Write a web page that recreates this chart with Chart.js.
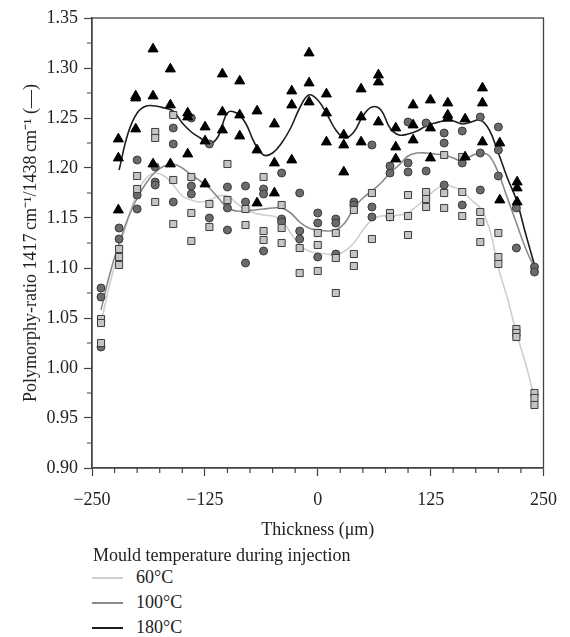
<!DOCTYPE html>
<html>
<head>
<meta charset="utf-8">
<script src="https://cdn.jsdelivr.net/npm/chart.js@4.4.0/dist/chart.umd.min.js"></script>
<style>
  body { margin: 0; background: #fff; }
  #wrap { position: relative; width: 570px; height: 637px; }
  #chart { position: absolute; left: 0; top: 0; }
  .lg { position: absolute; font-family: "Liberation Serif", serif; font-size: 18px; color: #222; line-height: 22px; height: 22px; white-space: nowrap; }
  .sw { position: absolute; left: 92px; width: 31px; height: 1.6px; }
</style>
</head>
<body>
<div id="wrap">
  <canvas id="chart" width="570" height="545"></canvas>
  <div class="lg" style="left:93px; top:544px;">Mould temperature during injection</div>
  <div class="sw" style="top:577px; background:#cfcfcf;"></div>
  <div class="lg" style="left:136px; top:566px;">60°C</div>
  <div class="sw" style="top:602px; background:#8a8a8a;"></div>
  <div class="lg" style="left:136px; top:591px;">100°C</div>
  <div class="sw" style="top:627px; background:#1e1e1e;"></div>
  <div class="lg" style="left:136px; top:616px;">180°C</div>
</div>
<script>
// --- measured positions (µm) ---
const posA = [-240, -220, -200, -180, -160, -140, -120, -100, -80, -60, -40, -20, 0,
              20, 40, 60, 80, 100, 120, 140, 160, 180, 200, 220, 240];
const posB = [-220.8, -201.6, -182.4, -163.2, -144, -124.8, -105.6, -86.4, -67.2, -48, -28.8, -9.6,
              9.6, 28.8, 48, 67.2, 86.4, 105.6, 124.8, 144, 163.2, 182.4, 201.6, 220.8];

// --- replicate ratios, 60°C (squares) ---
const ratio60 = [
  [1.049, 1.045, 1.025], [1.119, 1.111, 1.103], [1.192, 1.179], [1.236, 1.230, 1.166],
  [1.253, 1.188, 1.144], [1.191, 1.155, 1.127], [1.164, 1.141], [1.204, 1.168],
  [1.159, 1.143], [1.191, 1.137, 1.128], [1.163, 1.140, 1.125], [1.120, 1.095],
  [1.135, 1.123, 1.097], [1.135, 1.110, 1.075], [1.158, 1.114, 1.102], [1.175, 1.129],
  [1.155, 1.151], [1.173, 1.152, 1.133], [1.176, 1.169, 1.161], [1.213, 1.175, 1.160],
  [1.211, 1.176, 1.152], [1.156, 1.146, 1.126], [1.135, 1.111, 1.104], [1.039, 1.035, 1.031],
  [0.975, 0.970, 0.963]
];

// --- replicate ratios, 100°C (circles) ---
const ratio100 = [
  [1.080, 1.071, 1.021], [1.140, 1.129], [1.208, 1.173, 1.159], [1.201, 1.186, 1.183],
  [1.240, 1.224, 1.166], [1.250, 1.182, 1.174], [1.224, 1.150], [1.181, 1.160, 1.138],
  [1.182, 1.166, 1.105], [1.179, 1.174, 1.117], [1.195, 1.149, 1.146], [1.175, 1.137, 1.129],
  [1.155, 1.145, 1.111], [1.149, 1.145, 1.114], [1.166, 1.163], [1.223, 1.161, 1.151],
  [1.202, 1.195, 1.151], [1.246, 1.205, 1.196], [1.245, 1.197], [1.235, 1.225, 1.183],
  [1.237, 1.205, 1.163], [1.251, 1.215, 1.178], [1.241, 1.218, 1.192], [1.160, 1.120],
  [1.101, 1.096]
];

// --- replicate ratios, 180°C (triangles) ---
const ratio180 = [
  [1.229, 1.210, 1.158], [1.272, 1.270, 1.239], [1.319, 1.272, 1.204], [1.299, 1.263, 1.204],
  [1.255, 1.251, 1.214], [1.241, 1.227, 1.184], [1.294, 1.256, 1.238], [1.287, 1.253, 1.232],
  [1.257, 1.218, 1.165], [1.244, 1.205, 1.175], [1.277, 1.263, 1.208], [1.315, 1.285, 1.266],
  [1.274, 1.255, 1.226], [1.233, 1.223, 1.196], [1.279, 1.251, 1.226], [1.293, 1.286, 1.246],
  [1.240, 1.221, 1.209], [1.263, 1.243, 1.228], [1.268, 1.240, 1.210], [1.265, 1.253, 1.250],
  [1.249, 1.211], [1.280, 1.265, 1.226], [1.225, 1.168], [1.186, 1.180, 1.166]
];

// --- smoothed trend lines ---
const fitX = [-240, -230, -220, -210, -200, -190, -180, -170, -160, -150, -140, -130, -120, -110, -100,
              -90, -80, -70, -60, -50, -40, -30, -20, -10, 0, 10, 20, 30, 40, 50, 60, 70, 80, 90, 100,
              110, 120, 130, 140, 150, 160, 170, 180, 190, 200, 210, 220, 230, 240];
const fit60 = [1.045, 1.085, 1.118, 1.150, 1.175, 1.190, 1.195, 1.192, 1.183, 1.172, 1.168, 1.166, 1.168, 1.172, 1.172,
               1.165, 1.158, 1.155, 1.153, 1.152, 1.148, 1.135, 1.123, 1.117, 1.115, 1.114, 1.113, 1.117, 1.125, 1.138,
               1.148, 1.152, 1.152, 1.153, 1.155, 1.162, 1.170, 1.178, 1.183, 1.181, 1.177, 1.168, 1.160, 1.140,
               1.100, 1.070, 1.035, 1.005, 0.970];
const fit100 = [1.058, 1.095, 1.125, 1.150, 1.170, 1.185, 1.196, 1.202, 1.204, 1.200, 1.193, 1.187, 1.180, 1.170, 1.160,
                1.157, 1.157, 1.158, 1.159, 1.160, 1.160, 1.155, 1.146, 1.140, 1.138, 1.137, 1.138, 1.145, 1.160, 1.170,
                1.177, 1.185, 1.195, 1.203, 1.212, 1.215, 1.215, 1.214, 1.213, 1.210, 1.207, 1.212, 1.215, 1.212,
                1.195, 1.170, 1.145, 1.120, 1.100];
const fit180 = [null, null, 1.198, 1.235, 1.255, 1.262, 1.262, 1.260, 1.257, 1.245, 1.236, 1.230, 1.224, 1.232, 1.255,
                1.255, 1.245, 1.225, 1.213, 1.215, 1.225, 1.240, 1.260, 1.273, 1.268, 1.254, 1.238, 1.230, 1.236, 1.252,
                1.261, 1.258, 1.240, 1.233, 1.234, 1.237, 1.242, 1.245, 1.247, 1.247, 1.244, 1.246, 1.248, 1.238,
                1.215, 1.190, 1.168, 1.135, 1.103];

const FONT = '"Liberation Serif", "Times New Roman", serif';
const INK = '#222';
const AXIS = '#444';

function toPoints(pos, vals) {
    const out = [];
    pos.forEach((x, i) => vals[i].forEach(y => out.push({ x: x, y: y })));
    return out;
}

function toLine(fit) {
    const out = [];
    fitX.forEach((x, i) => { if (fit[i] !== null) out.push({ x: x, y: fit[i] }); });
    return out;
}

function trend(fit, color) {
    return {
        data: toLine(fit),
        showLine: true,
        borderColor: color,
        borderWidth: 1.6,
        pointRadius: 0,
        tension: 0.4,
        fill: false
    };
}

const isMajorX = v => Math.round(v) % 125 === 0;
const isMajorY = v => Math.round(v * 1000) % 50 === 0;

// box around the plot area
const framePlugin = {
    id: 'frame',
    beforeDatasetsDraw(chart) {
        const { ctx, chartArea: a } = chart;
        ctx.save();
        ctx.strokeStyle = AXIS;
        ctx.lineWidth = 1.3;
        ctx.strokeRect(a.left, a.top, a.right - a.left, a.bottom - a.top);
        ctx.restore();
    }
};

// shorter minor ticks (major ones come from chart.js itself)
const minorTicks = {
    id: 'minorTicks',
    afterDraw(chart) {
        const { ctx } = chart;
        const xs = chart.scales.x, ys = chart.scales.y;
        ctx.save();
        ctx.strokeStyle = AXIS;
        ctx.lineWidth = 1.2;
        ctx.beginPath();
        xs.ticks.forEach(t => {
            if (!isMajorX(t.value)) {
                const px = xs.getPixelForValue(t.value);
                ctx.moveTo(px, xs.top);
                ctx.lineTo(px, xs.top + 5);
            }
        });
        ys.ticks.forEach(t => {
            if (!isMajorY(t.value)) {
                const py = ys.getPixelForValue(t.value);
                ctx.moveTo(ys.right, py);
                ctx.lineTo(ys.right - 5, py);
            }
        });
        ctx.stroke();
        ctx.restore();
    }
};

const fmtX = v => v < 0 ? '\u2212' + Math.abs(v) : String(v);

new Chart(document.getElementById('chart'), {
    type: 'scatter',
    data: {
        datasets: [
            { // 180°C
                data: toPoints(posB, ratio180),
                pointStyle: 'triangle', pointRadius: 5.8,
                backgroundColor: '#000', borderColor: '#000', borderWidth: 1
            },
            { // 60°C
                data: toPoints(posA, ratio60),
                pointStyle: 'rect', pointRadius: 5,
                backgroundColor: '#c4c4c4', borderColor: '#3c3c3c', borderWidth: 1
            },
            { // 100°C
                data: toPoints(posA, ratio100),
                pointStyle: 'circle', pointRadius: 4,
                backgroundColor: '#6b6b6b', borderColor: '#3a3a3a', borderWidth: 1
            },
            trend(fit180, '#1e1e1e'),
            trend(fit100, '#8a8a8a'),
            trend(fit60, '#cfcfcf')
        ]
    },
    options: {
        responsive: false,
        animation: false,
        layout: { padding: { left: 0, top: 18, right: 22, bottom: 0 } },
        plugins: { legend: { display: false }, tooltip: { enabled: false } },
        scales: {
            x: {
                type: 'linear', min: -250, max: 250,
                afterFit: s => { s.height = 77; },
                ticks: {
                    stepSize: 25, autoSkip: false, maxRotation: 0, padding: 13,
                    color: INK, font: { family: FONT, size: 18 },
                    callback: v => (isMajorX(v) ? fmtX(Math.round(v)) : '')
                },
                grid: {
                    drawOnChartArea: false, tickLength: 8, tickWidth: 1.2,
                    tickColor: c => (isMajorX(c.tick.value) ? AXIS : 'rgba(0,0,0,0)')
                },
                border: { color: AXIS, width: 1.3 },
                title: {
                    display: true, text: 'Thickness (\u03bcm)', color: INK,
                    font: { family: FONT, size: 18 }, padding: { top: 0, bottom: 4 }
                }
            },
            y: {
                min: 0.90, max: 1.35,
                afterFit: s => { s.width = 92; },
                ticks: {
                    stepSize: 0.025, autoSkip: false, padding: 6,
                    color: INK, font: { family: FONT, size: 18 },
                    callback: v => (isMajorY(v) ? (Math.round(v * 1000) / 1000).toFixed(2) : '')
                },
                grid: {
                    drawOnChartArea: false, tickLength: 8, tickWidth: 1.2,
                    tickColor: c => (isMajorY(c.tick.value) ? AXIS : 'rgba(0,0,0,0)')
                },
                border: { color: AXIS, width: 1.3 },
                title: {
                    display: true, color: INK,
                    text: 'Polymorphy-ratio 1417\u2009cm\u207b\u00b9/1438\u2009cm\u207b\u00b9 (\u2014)',
                    font: { family: FONT, size: 18 }, padding: { top: 20, bottom: 0 }
                }
            }
        }
    },
    plugins: [framePlugin, minorTicks]
});
</script>
</body>
</html>
